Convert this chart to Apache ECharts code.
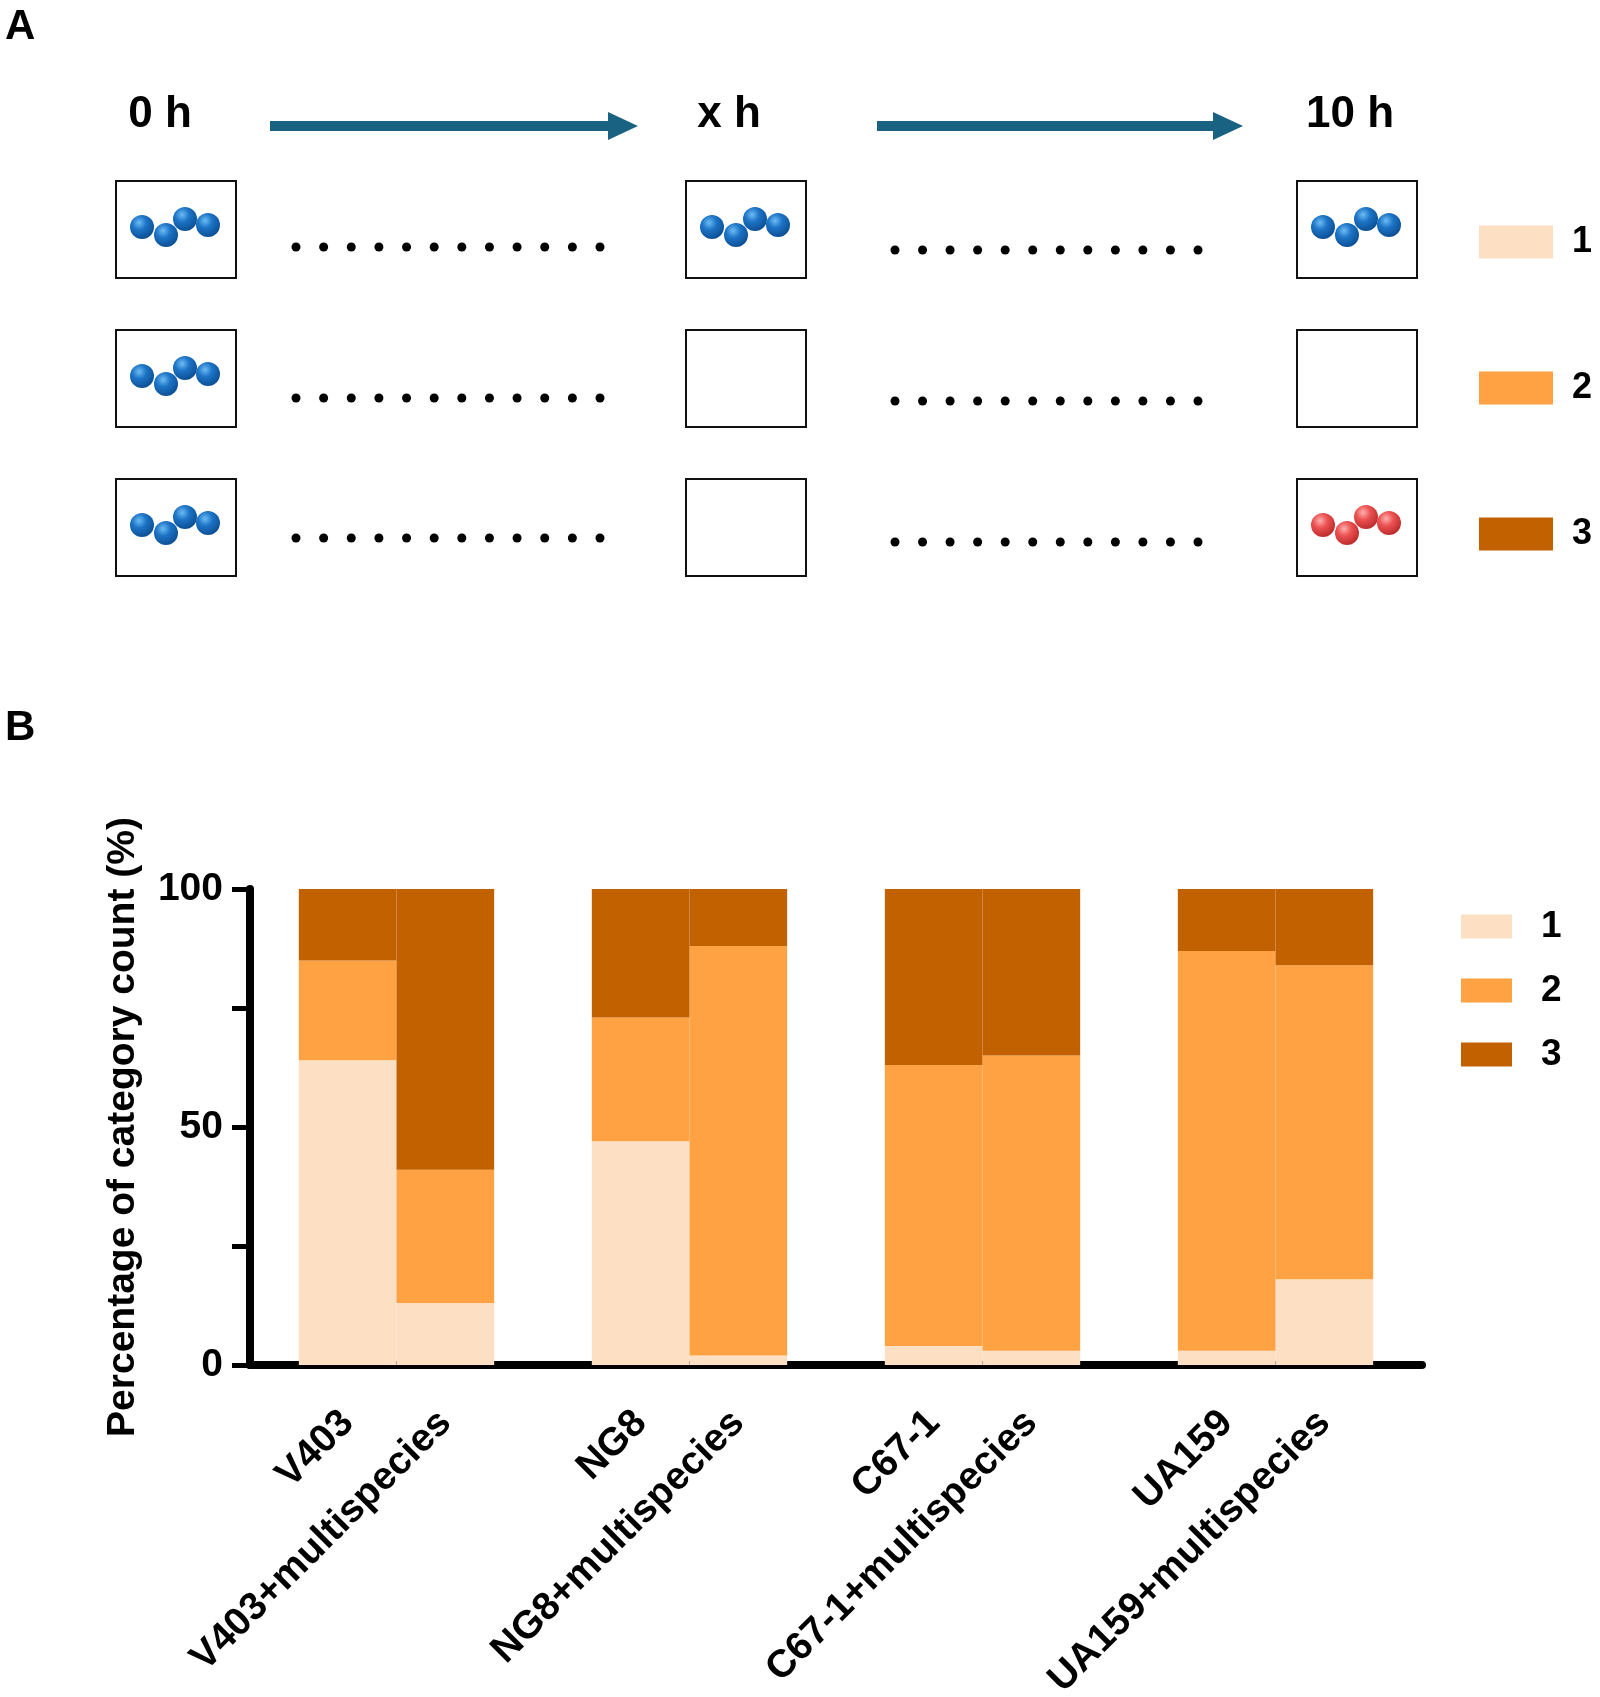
<!DOCTYPE html>
<html>
<head>
<meta charset="utf-8">
<script src="https://cdn.jsdelivr.net/npm/echarts@6/dist/echarts.min.js"></script>
<style>
  html, body { margin: 0; padding: 0; background: #fff; }
  #chart-container { width: 1600px; height: 1697px; }
</style>
</head>
<body>
<div id="chart-container"></div>
<script>
// data
var categories = ['V403', 'V403+multispecies', 'NG8', 'NG8+multispecies', 'C67-1', 'C67-1+multispecies', 'UA159', 'UA159+multispecies'];
var seriesNames = ['1', '2', '3'];
var cat1 = [64, 13, 47, 2, 4, 3, 3, 18];
var cat2 = [21, 28, 26, 86, 59, 62, 84, 66];
var cat3 = [15, 59, 27, 12, 37, 35, 13, 16];
var yTickLabels = [0, 50, 100];

var colors = ['#FDE0C3', '#FEA243', '#C16100'];
var font = 'Liberation Sans, Arial, sans-serif';

// pairs of bars with an empty slot between each pair, and a half slot at both ends
function pad(arr, blank) {
  var out = [blank];
  for (var i = 0; i < arr.length; i += 2) {
    out.push(arr[i], arr[i + 1], blank);
  }
  return out;
}

var dom = document.getElementById('chart-container');
var myChart = echarts.init(dom, null, { renderer: 'canvas' });

// panel A schematic
var boxCols = [116, 686, 1297];
var boxRows = [181, 330, 479];
var boxW = 120, boxH = 97;
// which boxes hold a chain: 'b' blue, 'r' red, '' empty
var boxContent = [
  ['b', 'b', 'b'],
  ['b', '', ''],
  ['b', '', 'r']
];
var sphereOffsets = [[26, 46], [50, 54], [69, 38], [92, 44]];
var dotSegments = [
  { x0: 296, x1: 600, ys: [247, 398, 538] },
  { x0: 895, x1: 1198, ys: [250, 401, 542] }
];
var arrows = [[270, 638], [877, 1243]];
var timeLabels = [['0 h', 160], ['x h', 729], ['10 h', 1350]];

function sphereFill(kind) {
  var stops = kind === 'r'
    ? [{ offset: 0, color: '#ffb0b0' }, { offset: 0.4, color: '#ec5252' }, { offset: 1, color: '#b52626' }]
    : [{ offset: 0, color: '#6cbcf4' }, { offset: 0.4, color: '#1d74c6' }, { offset: 1, color: '#0a4a8e' }];
  return { type: 'radial', x: 0.38, y: 0.32, r: 0.75, colorStops: stops };
}

var graphics = [];
graphics.push({ type: 'text', left: 5, top: 6, style: { text: 'A', font: 'bold 42px ' + font, fill: '#000' } });
graphics.push({ type: 'text', left: 5, top: 707, style: { text: 'B', font: 'bold 42px ' + font, fill: '#000' } });

timeLabels.forEach(function (t) {
  graphics.push({ type: 'text', x: t[1], y: 115, style: { text: t[0], font: 'bold 44px ' + font, fill: '#000', align: 'center', verticalAlign: 'middle' } });
});

arrows.forEach(function (a) {
  graphics.push({ type: 'rect', shape: { x: a[0], y: 121, width: a[1] - a[0] - 26, height: 10 }, style: { fill: '#1a6282' } });
  graphics.push({ type: 'polygon', shape: { points: [[a[1] - 30, 112], [a[1], 126], [a[1] - 30, 140]] }, style: { fill: '#1a6282' } });
});

boxRows.forEach(function (by, ri) {
  boxCols.forEach(function (bx, ci) {
    graphics.push({ type: 'rect', shape: { x: bx, y: by, width: boxW, height: boxH }, style: { fill: '#fff', stroke: '#111', lineWidth: 2 } });
    var kind = boxContent[ri][ci];
    if (kind) {
      sphereOffsets.forEach(function (o) {
        graphics.push({ type: 'circle', shape: { cx: bx + o[0], cy: by + o[1], r: 12 }, style: { fill: sphereFill(kind) } });
      });
    }
  });
});

dotSegments.forEach(function (s) {
  s.ys.forEach(function (y) {
    for (var i = 0; i < 12; i++) {
      graphics.push({ type: 'circle', shape: { cx: s.x0 + (s.x1 - s.x0) * i / 11, cy: y, r: 4.5 }, style: { fill: '#000' } });
    }
  });
});

var seriesData = [cat1, cat2, cat3];

var option = {
  animation: false,
  backgroundColor: '#fff',
  graphic: graphics,
  legend: [
    {
      data: seriesNames,
      orient: 'vertical',
      left: 1474,
      top: 219,
      icon: 'rect',
      itemWidth: 74,
      itemHeight: 33,
      itemGap: 110,
      selectedMode: false,
      textStyle: { fontFamily: font, fontWeight: 'bold', fontSize: 36, color: '#000', padding: [0, 0, 0, 14] }
    },
    {
      data: seriesNames,
      orient: 'vertical',
      left: 1456,
      top: 903,
      icon: 'rect',
      itemWidth: 51,
      itemHeight: 24,
      itemGap: 27,
      selectedMode: false,
      textStyle: { fontFamily: font, fontWeight: 'bold', fontSize: 37, color: '#000', padding: [0, 0, 0, 24] }
    }
  ],
  grid: { left: 250, right: 178, top: 889, bottom: 332, containLabel: false, outerBoundsMode: 'none' },
  xAxis: {
    type: 'category',
    boundaryGap: false,
    data: pad(categories, ''),
    axisLine: { lineStyle: { color: '#000', width: 8 } },
    axisTick: { show: false },
    axisLabel: {
      interval: 0,
      rotate: 45,
      margin: 52,
      color: '#000',
      fontFamily: font,
      fontWeight: 'bold',
      fontSize: 39
    },
    splitLine: { show: false }
  },
  yAxis: {
    type: 'value',
    min: 0,
    max: 100,
    interval: 25,
    name: 'Percentage of category count (%)',
    nameLocation: 'middle',
    nameGap: 107,
    nameTextStyle: { color: '#000', fontFamily: font, fontWeight: 'bold', fontSize: 39 },
    axisLine: { show: true, lineStyle: { color: '#000', width: 8 } },
    axisTick: { show: true, length: 18, lineStyle: { color: '#000', width: 5 } },
    axisLabel: {
      margin: 27,
      color: '#000',
      fontFamily: font,
      fontWeight: 'bold',
      fontSize: 39,
      formatter: function (v) {
        return yTickLabels.indexOf(v) >= 0 ? String(v) : '';
      }
    },
    splitLine: { show: false }
  },
  series: seriesNames.map(function (name, i) {
    return {
      name: name,
      type: 'bar',
      stack: 'total',
      barWidth: '100%',
      itemStyle: { color: colors[i] },
      data: pad(seriesData[i], null)
    };
  })
};

myChart.setOption(option);
window.addEventListener('resize', myChart.resize);
</script>
</body>
</html>
